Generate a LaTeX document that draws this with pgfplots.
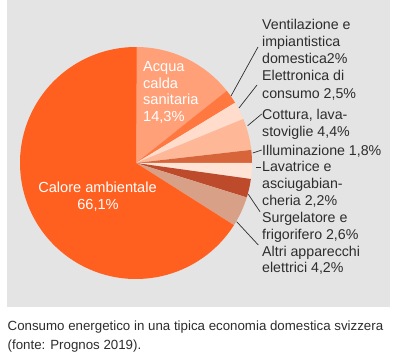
\documentclass[border=0pt]{standalone}
\usepackage{pgfplots}
\pgfplotsset{compat=1.18}
\usepackage{pgfplotstable}
\usepackage{fontspec}
\setmainfont{Liberation Sans}
\definecolor{bg}{RGB}{228,228,228}
\definecolor{txt}{RGB}{45,45,45}
\definecolor{cCal}{RGB}{255,95,31}
\definecolor{cAcq}{RGB}{255,160,120}
\definecolor{cVen}{RGB}{255,120,64}
\definecolor{cEle}{RGB}{255,220,203}
\definecolor{cCot}{RGB}{255,184,151}
\definecolor{cIll}{RGB}{216,100,58}
\definecolor{cLav}{RGB}{255,227,213}
\definecolor{cSur}{RGB}{190,74,44}
\definecolor{cAlt}{RGB}{217,160,136}

\pgfplotstableread{
share col
14.3 cAcq
2.0 cVen
2.5 cEle
4.4 cCot
1.8 cIll
2.2 cLav
2.6 cSur
4.2 cAlt
66.1 cCal
}\pietable

\begin{document}
\begin{tikzpicture}
\path[use as bounding box] (0,0) rectangle (396bp,355bp);
\fill[white] (0,0) rectangle (396bp,355bp);
\fill[bg] (7bp,48bp) rectangle (390bp,355bp);
\begin{axis}[anchor=origin, at={(136bp,192bp)}, x=116bp, y=116bp,
  xmin=-1.05, xmax=1.05, ymin=-1.05, ymax=1.05, hide axis, clip=false]
\def\cum{90}
\pgfplotsforeachungrouped \i in {0,...,8}{%
 \pgfplotstablegetelem{\i}{share}\of\pietable \let\myv\pgfplotsretval
 \pgfplotstablegetelem{\i}{col}\of\pietable \let\myc\pgfplotsretval
 \pgfmathsetmacro\enda{\cum-3.6*\myv}%
 \edef\temp{\noexpand\fill[\myc] (axis cs:0,0) -- ++(\cum:116bp) arc[start angle=\cum, end angle=\enda, radius=116bp] -- cycle;}%
 \temp
 \global\let\cum\enda
}
\end{axis}
\begin{scope}[shift={(0pt,355bp)}, x=1bp, y=-1bp, font=\fontsize{14.2bp}{17bp}\selectfont, text=txt]
\draw[txt, line width=0.7bp] (231,96)--(258,47);
\draw[txt, line width=0.7bp] (239,108)--(257,85);
\draw[txt, line width=0.7bp] (247.7,125.7)--(261.7,114);
\draw[txt, line width=0.7bp] (252.7,153)--(261.7,150);
\draw[txt, line width=0.7bp] (256,167.3)--(260.7,167.3);
\draw[txt, line width=0.7bp] (248.3,194.3)--(260,211.7);
\draw[txt, line width=0.7bp] (236.7,221.7)--(258.3,245);
\node[anchor=base west, inner sep=0] at (262,29.5) {Ventilazione e};
\node[anchor=base west, inner sep=0] at (262,46.5) {impiantistica};
\node[anchor=base west, inner sep=0] at (262,63.5) {domestica2\%};
\node[anchor=base west, inner sep=0] at (262,81) {Elettronica di};
\node[anchor=base west, inner sep=0] at (262,98.5) {consumo 2,5\%};
\node[anchor=base west, inner sep=0] at (262,119.5) {Cottura, lava-};
\node[anchor=base west, inner sep=0] at (262,136.5) {stoviglie 4,4\%};
\node[anchor=base west, inner sep=0] at (262,155.5) {Illuminazione 1,8\%};
\node[anchor=base west, inner sep=0] at (262,172) {Lavatrice e};
\node[anchor=base west, inner sep=0] at (262,189) {asciugabian-};
\node[anchor=base west, inner sep=0] at (262,205.5) {cheria 2,2\%};
\node[anchor=base west, inner sep=0] at (262,222.5) {Surgelatore e};
\node[anchor=base west, inner sep=0] at (262,239.5) {frigorifero 2,6\%};
\node[anchor=base west, inner sep=0] at (262,256.5) {Altri apparecchi};
\node[anchor=base west, inner sep=0] at (262,273) {elettrici 4,2\%};
\begin{scope}[font=\fontsize{14.6bp}{17bp}\selectfont]
\node[anchor=base west, inner sep=0, text=white] at (143,71.7) {Acqua};
\node[anchor=base west, inner sep=0, text=white] at (143,88.3) {calda};
\node[anchor=base west, inner sep=0, text=white] at (143,105) {sanitaria};
\node[anchor=base west, inner sep=0, text=white] at (143,121.7) {14,3\%};
\node[anchor=base, inner sep=0, text=white] at (97.5,192.7) {Calore ambientale};
\node[anchor=base, inner sep=0, text=white] at (98,210) {66,1\%};
\end{scope}
\node[anchor=base west, inner sep=0, font=\fontsize{13.3bp}{15bp}\selectfont] at (7.5,330.7) {Consumo energetico in una tipica economia domestica svizzera};
\node[anchor=base west, inner sep=0, font=\fontsize{13.3bp}{15bp}\selectfont] at (7.5,349.3) {(fonte: Prognos 2019).};
\end{scope}
\end{tikzpicture}
\end{document}
